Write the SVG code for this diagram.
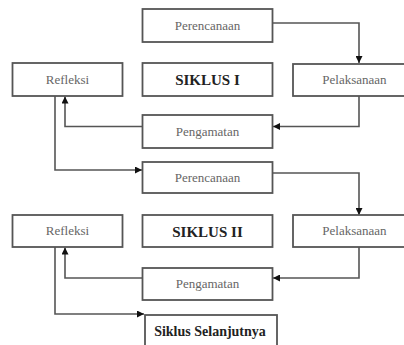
<svg xmlns="http://www.w3.org/2000/svg" width="404" height="345" viewBox="0 0 404 345">
<style>
.box{fill:#fff;stroke:#555;stroke-width:1.8}
text{font-family:'Liberation Serif','Times New Roman','DejaVu Serif',serif}
.t{font-size:13px;fill:#666;text-anchor:middle}
.b{font-size:15px;font-weight:bold;fill:#222;text-anchor:middle}
.c{fill:none;stroke:#555;stroke-width:1.6}
</style>
<defs>
<marker id="ah" viewBox="0 0 10 10" refX="10" refY="5" markerWidth="7" markerHeight="7" markerUnits="userSpaceOnUse" orient="auto">
<path d="M0,0 L10,5 L0,10 Z" fill="#111"/>
</marker>
</defs>
<rect width="404" height="345" fill="#fff"/>
<g id="connectors">
<path class="c" d="M272.5,23 H359 V63" marker-end="url(#ah)"/>
<path class="c" d="M359,96 V126.5 H273" marker-end="url(#ah)"/>
<path class="c" d="M142.5,126.5 H65 V96.5" marker-end="url(#ah)"/>
<path class="c" d="M55,96 V170 H142" marker-end="url(#ah)"/>
<path class="c" d="M272.5,173 H359 V215" marker-end="url(#ah)"/>
<path class="c" d="M359,247 V278 H273" marker-end="url(#ah)"/>
<path class="c" d="M142.5,278 H65 V247.5" marker-end="url(#ah)"/>
<path class="c" d="M55,247 V314 H144" marker-end="url(#ah)"/>
</g>
<g id="perencanaan1"><rect class="box" x="142.5" y="9" width="130" height="33"/><text class="t" x="207.5" y="30">Perencanaan</text></g>
<g id="refleksi1"><rect class="box" x="12.5" y="63" width="110" height="33"/><text class="t" x="67.5" y="84">Refleksi</text></g>
<g id="siklus1"><rect class="box" x="142.5" y="63" width="130" height="33"/><text class="b" x="207.5" y="85">SIKLUS I</text></g>
<g id="pelaksanaan1"><rect class="box" x="293" y="64" width="123" height="32"/><text class="t" x="354.5" y="84">Pelaksanaan</text></g>
<g id="pengamatan1"><rect class="box" x="142.5" y="115" width="130" height="33"/><text class="t" x="207.5" y="136">Pengamatan</text></g>
<g id="perencanaan2"><rect class="box" x="142.5" y="162" width="130" height="31"/><text class="t" x="207.5" y="182">Perencanaan</text></g>
<g id="refleksi2"><rect class="box" x="12.5" y="215" width="110" height="32"/><text class="t" x="67.5" y="235">Refleksi</text></g>
<g id="siklus2"><rect class="box" x="142.5" y="215" width="130" height="32"/><text class="b" x="207.5" y="237">SIKLUS II</text></g>
<g id="pelaksanaan2"><rect class="box" x="293" y="215" width="123" height="32"/><text class="t" x="354.5" y="235">Pelaksanaan</text></g>
<g id="pengamatan2"><rect class="box" x="142.5" y="268" width="130" height="32"/><text class="t" x="207.5" y="288">Pengamatan</text></g>
<g id="siklus-selanjutnya"><rect class="box" x="145" y="315" width="132" height="36"/><text class="b" x="210" y="336" style="font-size:14px">Siklus Selanjutnya</text></g>
</svg>
